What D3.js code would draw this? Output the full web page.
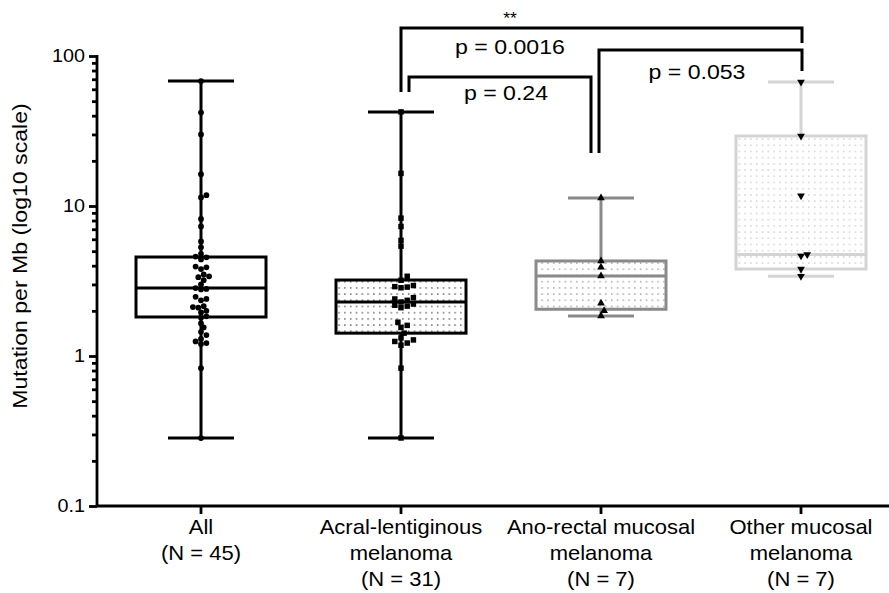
<!DOCTYPE html>
<html>
<head>
<meta charset="utf-8">
<script src="https://cdn.jsdelivr.net/npm/d3@7"></script>
<style>
  html, body { margin: 0; padding: 0; background: #fff; }
  svg { display: block; }
  text { font-family: "Liberation Sans", Arial, sans-serif; fill: #000; }
</style>
</head>
<body>
<svg id="chart" width="889" height="593"></svg>
<script>
// ---- data ----
const categories = ["All", "Acral-lentiginous", "Ano-rectal mucosal", "Other mucosal"];
const categoryLabels = [
  ["All", "(N = 45)"],
  ["Acral-lentiginous", "melanoma", "(N = 31)"],
  ["Ano-rectal mucosal", "melanoma", "(N = 7)"],
  ["Other mucosal", "melanoma", "(N = 7)"]
];

// mutations per Mb, one value per sample
const allValues = [68, 42, 30, 16.3, 11.8, 11.4, 8.2, 7.3, 5.8, 5.3, 4.8, 4.6, 4.55, 4.4, 3.95,
  3.9, 3.8, 3.5, 3.4, 3.35, 3.2, 3.0, 2.84, 2.8, 2.78, 2.48, 2.4, 2.35, 2.15, 2.12,
  2.1, 2.0, 1.95, 1.84, 1.8, 1.65, 1.55, 1.45, 1.38, 1.3, 1.25, 1.22, 1.2, 0.83, 0.284];
const acralValues = [42.4, 16.5, 8.3, 7.3, 5.9, 5.4, 3.4, 3.2, 2.95, 2.9, 2.88, 2.85, 2.45, 2.4,
  2.35, 2.29, 2.22, 2.18, 2.15, 2.1, 1.68, 1.6, 1.55, 1.42, 1.32, 1.28, 1.25, 1.22, 1.18, 0.83, 0.284];
const anoRectalValues = [11.3, 4.3, 3.9, 3.41, 2.25, 2.0, 1.85];
const otherMucosalValues = [67, 29.3, 11.7, 4.75, 4.65, 3.8, 3.4];

// box summaries: [min, Q1, median, Q3, max]
const boxMin    = [0.284, 0.284, 1.85, 3.4];
const boxQ1     = [1.82, 1.42, 2.05, 3.8];
const boxMedian = [2.84, 2.29, 3.41, 4.75];
const boxQ3     = [4.57, 3.21, 4.3, 29.3];
const boxMax    = [68, 42.4, 11.3, 67];

// y axis
const yMajorTicks = [0.1, 1, 10, 100];
const yTickLabels = ["0.1", "1", "10", "100"];
const yTitle = "Mutation per Mb (log10 scale)";

// pairwise comparisons (index into categories)
const compFrom   = [1, 2, 1];
const compTo     = [2, 3, 3];
const compLabels = ["p = 0.24", "p = 0.053", "p = 0.0016"];
const compStars  = ["", "", "**"];

// ---- layout ----
const svg = d3.select("#chart");
const axisX = 97, axisTop = 56, axisBottom = 506;
const x = d3.scaleBand().domain(categories).range([101, 901]).padding(0);
const cx = c => x(c) + x.bandwidth() / 2;
const y = d3.scaleLog().domain([0.1, 100]).range([axisBottom, axisTop]);

const groups = [allValues, acralValues, anoRectalValues, otherMucosalValues];
const lineColor = ["#000", "#000", "#8a8a8a", "#d4d4d4"];
const dotColor = ["#555", "#555", "#9a9a9a", "#c9c9c9"];
const symbols = [d3.symbolCircle, d3.symbolSquare, d3.symbolTriangle, d3.symbolTriangle];
const symSize = [26, 30, 26, 26];
const symRotate = [0, 0, 0, 180];
const boxHalf = 65, capHalf = 33;

// stretched text helper (labels are set a little wide)
const SX = 1.1;
function wideText(parent, tx, ty, str, size, anchor, rotate) {
  return parent.append("text")
    .attr("transform", `translate(${tx},${ty}) rotate(${rotate || 0}) scale(${SX},1)`)
    .attr("text-anchor", anchor || "middle")
    .style("font-size", size + "px")
    .text(str);
}

// dotted fill patterns
const defs = svg.append("defs");
dotColor.forEach((col, i) => {
  const p = defs.append("pattern")
    .attr("id", "dots" + i)
    .attr("patternUnits", "userSpaceOnUse")
    .attr("width", 5.8).attr("height", 6.2);
  p.append("rect").attr("x", 2).attr("y", 2).attr("width", 1.4).attr("height", 1.4).attr("fill", col);
});

// ---- boxes ----
categories.forEach((c, i) => {
  const g = svg.append("g");
  const xc = cx(c);
  const col = lineColor[i];
  const fill = i === 0 ? "#fff" : `url(#dots${i})`;
  g.append("rect")
    .attr("x", xc - boxHalf).attr("y", y(boxQ3[i]))
    .attr("width", boxHalf * 2).attr("height", y(boxQ1[i]) - y(boxQ3[i]))
    .attr("fill", fill).attr("stroke", col).attr("stroke-width", 3);
  g.append("line")
    .attr("x1", xc - boxHalf).attr("x2", xc + boxHalf)
    .attr("y1", y(boxMedian[i])).attr("y2", y(boxMedian[i]))
    .attr("stroke", col).attr("stroke-width", 3);
  // whiskers
  [[boxQ3[i], boxMax[i]], [boxQ1[i], boxMin[i]]].forEach(([a, b]) => {
    g.append("line").attr("x1", xc).attr("x2", xc)
      .attr("y1", y(a)).attr("y2", y(b))
      .attr("stroke", col).attr("stroke-width", 3);
    g.append("line").attr("x1", xc - capHalf).attr("x2", xc + capHalf)
      .attr("y1", y(b)).attr("y2", y(b))
      .attr("stroke", col).attr("stroke-width", 3);
  });
});

// ---- points (deterministic beeswarm) ----
function swarm(values, diam) {
  const placed = [];
  const sorted = values.map((v, k) => ({ v, k, py: y(v) })).sort((a, b) => b.py - a.py);
  sorted.forEach(d => {
    let best = 0;
    for (let s = 0; s < 40; s++) {
      const cands = s === 0 ? [0] : [s * diam * 0.5, -s * diam * 0.5];
      let ok = null;
      for (const off of cands) {
        const hit = placed.some(p => {
          const dx = p.off - off, dy = p.py - d.py;
          return dx * dx + dy * dy < diam * diam * 0.8;
        });
        if (!hit) { ok = off; break; }
      }
      if (ok !== null) { best = ok; break; }
    }
    d.off = best;
    placed.push(d);
  });
  return sorted;
}

categories.forEach((c, i) => {
  const xc = cx(c);
  const pts = swarm(groups[i], i === 0 ? 5.4 : 6.2);
  svg.append("g").selectAll("path").data(pts).join("path")
    .attr("d", d3.symbol().type(symbols[i]).size(symSize[i]))
    .attr("transform", d => `translate(${xc + d.off},${d.py}) rotate(${symRotate[i]})`)
    .attr("fill", "#000");
});

// ---- axes ----
const yAxis = svg.append("g").attr("transform", `translate(${axisX},0)`)
  .call(d3.axisLeft(y).tickValues(yMajorTicks).tickSize(8).tickSizeOuter(0)
    .tickFormat((d, k) => ""));
const yMinor = [];
[0.1, 1, 10].forEach(dec => d3.range(2, 10).forEach(m => yMinor.push(dec * m)));
svg.append("g").attr("transform", `translate(${axisX},0)`)
  .call(d3.axisLeft(y).tickValues(yMinor).tickSize(5).tickFormat(() => ""))
  .call(g => g.select(".domain").remove());
svg.selectAll(".domain, .tick line").attr("stroke", "#000").attr("stroke-width", 2.8);
yAxis.select(".domain").attr("d", `M0,${axisBottom + 1}V${axisTop - 1}`);
yMajorTicks.forEach((t, k) => {
  wideText(svg, axisX - 12, y(t) + 6, yTickLabels[k], 18, "end");
});

const xAxis = svg.append("g").attr("transform", `translate(0,${axisBottom})`)
  .call(d3.axisBottom(x).tickSize(8).tickSizeOuter(0).tickFormat(() => ""));
xAxis.select(".domain").attr("d", `M${axisX - 1},0H${x.range()[1]}`);
xAxis.selectAll(".domain, .tick line").attr("stroke", "#000").attr("stroke-width", 2.8);

categories.forEach((c, i) => {
  categoryLabels[i].forEach((line, j) => {
    wideText(svg, cx(c), 534 + j * 26, line, 20, "middle");
  });
});

wideText(svg, 27, 256, yTitle, 21, "middle", -90);

// ---- comparison brackets ----
const bracketTop = [77, 50, 28];
const bracketLeftEnd = [92, 153, 92];
const bracketRightEnd = [153, 71, 43];
const bracketLeftOff = [8, -2, 0];
const bracketRightOff = [-10, 1, 1];
const labelPos = [[506, 100], [697, 79], [510, 54]];
compFrom.forEach((f, k) => {
  const x1 = cx(categories[f]) + bracketLeftOff[k];
  const x2 = cx(categories[compTo[k]]) + bracketRightOff[k];
  svg.append("path")
    .attr("d", `M${x1},${bracketLeftEnd[k]}V${bracketTop[k]}H${x2}V${bracketRightEnd[k]}`)
    .attr("fill", "none").attr("stroke", "#000").attr("stroke-width", 3);
  wideText(svg, labelPos[k][0], labelPos[k][1], compLabels[k], 21, "middle");
  if (compStars[k]) wideText(svg, 510, 24, compStars[k], 16, "middle");
});
</script>
</body>
</html>
